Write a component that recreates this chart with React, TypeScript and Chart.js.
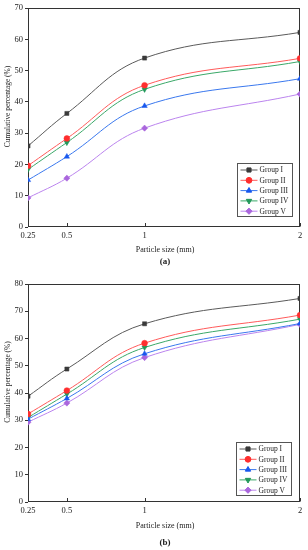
import React, { useEffect, useRef } from "react";
import { Chart, registerables } from "chart.js";
import { drawPoint } from "chart.js/helpers";

Chart.register(...registerables);

// ---------- data ----------
const particleSizes = [0.25, 0.5, 1, 2];
const xTickLabels = ["0.25", "0.5", "1", "2"];
const groupNames = ["Group I", "Group II", "Group III", "Group IV", "Group V"];

// panel (a)
const groupIA = [25.9, 36.3, 54.0, 62.2];
const groupIIA = [19.6, 28.3, 45.3, 53.9];
const groupIIIA = [15.0, 22.5, 38.7, 47.4];
const groupIVA = [18.4, 27.0, 44.0, 52.9];
const groupVA = [9.3, 15.6, 31.6, 42.5];
const yTicksA = [0, 10, 20, 30, 40, 50, 60, 70];

// panel (b)
const groupIB = [38.8, 48.8, 65.4, 74.7];
const groupIIB = [32.3, 40.9, 58.3, 68.6];
const groupIIIB = [30.4, 38.0, 54.4, 65.5];
const groupIVB = [31.0, 39.6, 56.7, 67.1];
const groupVB = [29.3, 36.3, 53.0, 65.2];
const yTicksB = [0, 10, 20, 30, 40, 50, 60, 70, 80];

// ---------- styles ----------
const lineColors = ["#5a5a5a", "#ff5a5a", "#3a78ee", "#3aa868", "#bb84ee"];
const markerColors = ["#3a3a3a", "#ff2e2e", "#1858ee", "#22985a", "#aa66dd"];
const markerStyles = ["rect", "circle", "triangle", "triangle", "rectRot"];
const markerRotations = [0, 0, 0, 180, 0];
const markerRadii = [2.9, 2.9, 3.1, 3.1, 3.1];
const SERIF = "'Liberation Serif', 'Times New Roman', serif";

const decorPlugin = {
  id: "decor",
  beforeDatasetsDraw(chart: any) {
    const { ctx, chartArea: a } = chart;
    ctx.save();
    ctx.strokeStyle = "#333333";
    ctx.lineWidth = 1;
    const l = Math.round(a.left) + 0.5;
    const t = Math.round(a.top) + 0.5;
    const r = Math.round(a.right) - 0.5;
    const b = Math.round(a.bottom) - 0.5;
    ctx.strokeRect(l, t, r - l, b - t);
    // inward x ticks
    const xs = chart.scales.x;
    particleSizes.forEach((v) => {
      const px = Math.round(xs.getPixelForValue(v)) + 0.5;
      ctx.beginPath();
      ctx.moveTo(px, b);
      ctx.lineTo(px, b - 3.5);
      ctx.stroke();
    });
    ctx.restore();
  },
  afterDraw(chart: any, _args: any, opts: any) {
    const { ctx, chartArea: a } = chart;
    ctx.save();
    ctx.fillStyle = "#222222";
    ctx.textBaseline = "middle";
    ctx.textAlign = "center";
    // x title
    ctx.font = `8px ${SERIF}`;
    ctx.fillText("Particle size (mm)", (a.left + a.right) / 2 + 1, a.bottom + opts.xTitleOffset);
    // caption
    ctx.font = `bold 9px ${SERIF}`;
    ctx.fillText(opts.caption, (a.left + a.right) / 2 + 1, a.bottom + opts.captionOffset);
    // y title
    ctx.save();
    ctx.translate(8.5, (a.top + a.bottom) / 2 - 11);
    ctx.rotate(-Math.PI / 2);
    ctx.font = `7.4px ${SERIF}`;
    ctx.fillText("Cumulative percentage (%)", 0, 0);
    ctx.restore();

    // legend
    const bw = 55;
    const bh = 53;
    const bx = Math.round(a.right - opts.legendRight - bw) + 0.5;
    const by = Math.round(a.bottom - opts.legendBottom - bh) + 0.5;
    ctx.fillStyle = "#ffffff";
    ctx.fillRect(bx, by, bw, bh);
    ctx.strokeStyle = "#555555";
    ctx.lineWidth = 1;
    ctx.strokeRect(bx, by, bw, bh);
    ctx.font = `7.5px ${SERIF}`;
    ctx.textAlign = "left";
    chart.data.datasets.forEach((ds: any, i: number) => {
      const y = by + 6.5 + i * 10.3;
      ctx.strokeStyle = lineColors[i];
      ctx.lineWidth = 1;
      ctx.beginPath();
      ctx.moveTo(bx + 3, y);
      ctx.lineTo(bx + 20, y);
      ctx.stroke();
      ctx.fillStyle = markerColors[i];
      ctx.strokeStyle = markerColors[i];
      drawPoint(
        ctx,
        {
          pointStyle: markerStyles[i],
          radius: markerRadii[i],
          rotation: markerRotations[i],
          borderWidth: 0.5,
        } as any,
        bx + 11.5,
        y
      );
      ctx.fillStyle = "#222222";
      ctx.fillText(ds.label, bx + 22, y + 0.5);
    });
    ctx.restore();
  },
};

type PanelProps = {
  height: number;
  series: number[][];
  yTicks: number[];
  padTop: number;
  xHeight: number;
  caption: string;
  xTitleOffset: number;
  captionOffset: number;
  legendRight: number;
  legendBottom: number;
};

function Panel(props: PanelProps) {
  const ref = useRef<HTMLCanvasElement | null>(null);
  useEffect(() => {
    if (!ref.current) return;
    const datasets = props.series.map((vals, i) => ({
      label: groupNames[i],
      data: particleSizes.map((x, j) => ({ x, y: vals[j] })),
      borderColor: lineColors[i],
      backgroundColor: markerColors[i],
      pointBackgroundColor: markerColors[i],
      pointBorderColor: markerColors[i],
      pointBorderWidth: 0.5,
      pointStyle: markerStyles[i],
      pointRotation: markerRotations[i],
      pointRadius: markerRadii[i],
      borderWidth: 1,
      tension: 0.4,
      fill: false,
    }));
    const yMax = props.yTicks[props.yTicks.length - 1];
    const chart = new Chart(ref.current, {
      type: "line",
      data: { datasets } as any,
      plugins: [decorPlugin as any],
      options: {
        animation: false,
        responsive: false,
        maintainAspectRatio: false,
        devicePixelRatio: 1,
        layout: { padding: { top: props.padTop, right: 8, left: 0, bottom: 0 } },
        plugins: {
          legend: { display: false },
          tooltip: { enabled: false },
          title: { display: false },
          decor: {
            caption: props.caption,
            xTitleOffset: props.xTitleOffset,
            captionOffset: props.captionOffset,
            legendRight: props.legendRight,
            legendBottom: props.legendBottom,
          },
        } as any,
        scales: {
          x: {
            type: "linear",
            min: particleSizes[0],
            max: particleSizes[particleSizes.length - 1],
            afterBuildTicks: (s: any) => {
              s.ticks = particleSizes.map((v) => ({ value: v }));
            },
            afterFit: (s: any) => {
              s.height = props.xHeight;
            },
            grid: { display: false, drawTicks: false },
            border: { display: false },
            ticks: {
              autoSkip: false,
              maxRotation: 0,
              padding: 4,
              color: "#222222",
              font: { family: SERIF, size: 8.5 },
              callback: (v: any) => {
                const idx = particleSizes.indexOf(Number(v));
                return idx >= 0 ? xTickLabels[idx] : "";
              },
            },
          },
          y: {
            type: "linear",
            min: props.yTicks[0],
            max: yMax,
            afterBuildTicks: (s: any) => {
              s.ticks = props.yTicks.map((v) => ({ value: v }));
            },
            afterFit: (s: any) => {
              s.width = 28;
            },
            grid: {
              drawOnChartArea: false,
              drawTicks: true,
              tickLength: 3,
              color: "#333333",
              lineWidth: 1,
            },
            border: { display: false },
            ticks: {
              padding: 2,
              color: "#222222",
              font: { family: SERIF, size: 8.5 },
            },
          },
        },
      } as any,
    });
    return () => chart.destroy();
  }, []);
  return (
    <canvas
      ref={ref}
      width={308}
      height={props.height}
      style={{ display: "block", width: 308, height: props.height }}
    />
  );
}

export default function App() {
  return (
    <div
      style={{
        position: "fixed",
        left: 0,
        top: 0,
        width: 308,
        height: 550,
        background: "#ffffff",
      }}
    >
      <Panel
        height={272}
        series={[groupIA, groupIIA, groupIIIA, groupIVA, groupVA]}
        yTicks={yTicksA}
        padTop={8}
        xHeight={45}
        caption="(a)"
        xTitleOffset={22.5}
        captionOffset={35}
        legendRight={8}
        legendBottom={11}
      />
      <Panel
        height={278}
        series={[groupIB, groupIIB, groupIIIB, groupIVB, groupVB]}
        yTicks={yTicksB}
        padTop={12}
        xHeight={48}
        caption="(b)"
        xTitleOffset={23.7}
        captionOffset={41}
        legendRight={9}
        legendBottom={7.5}
      />
    </div>
  );
}
